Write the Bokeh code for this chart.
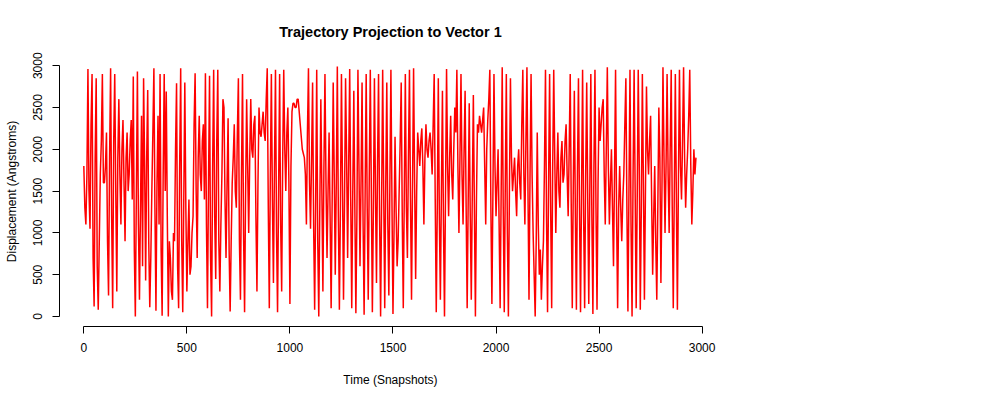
from bokeh.plotting import figure
from bokeh.models import Range1d, FixedTicker, ColumnDataSource
from bokeh.embed import file_html
from bokeh.resources import INLINE

title_text = "Trajectory Projection to Vector 1"
x_label = "Time (Snapshots)"
y_label = "Displacement (Angstroms)"
x_ticks = [0, 500, 1000, 1500, 2000, 2500, 3000]
y_ticks = [0, 500, 1000, 1500, 2000, 2500, 3000]

step = 5
displacement = [
    1800, 1300, 1100, 1700, 2960, 1500, 1050, 2300, 2900, 700, 120, 1900, 2850, 600, 80, 900, 1700, 2100, 2900, 1600,
    1600, 1800, 2200, 900, 250, 1900, 2970, 1200, 100, 2100, 2900, 1500, 300, 1900, 2600, 1700, 1100, 2000, 2350, 1600,
    900, 1900, 2200, 1500, 1700, 2100, 2350, 1400, 2870, 800, 0, 1500, 2930, 1100, 200, 1300, 2400, 600, 2850, 1800,
    430, 1900, 2710, 900, 110, 700, 1500, 2200, 2970, 1300, 70, 1600, 2400, 1100, 2900, 800, 10, 1700, 2900, 1500,
    2690, 1200, 0, 900, 700, 300, 200, 1000, 900, 2000, 2790, 600, 100, 1800, 2970, 900, 50, 1400, 2800, 1300,
    300, 900, 1400, 500, 600, 1000, 1200, 2300, 2910, 1500, 700, 1900, 2400, 1700, 1500, 2100, 2300, 1400, 2910, 1100,
    100, 1600, 2880, 700, 0, 1800, 2950, 1200, 450, 2100, 2950, 900, 300, 1100, 1700, 2600, 2500, 1400, 700, 1600,
    2370, 800, 60, 900, 1600, 1900, 2300, 1500, 1300, 2200, 2850, 900, 200, 1700, 2900, 1000, 50, 1500, 2600, 1800,
    1000, 1900, 2600, 2000, 1900, 2300, 2400, 1200, 300, 1600, 2500, 2200, 2150, 2300, 2450, 2200, 2100, 2600, 2970, 1300,
    100, 1700, 2900, 1400, 400, 1800, 2950, 1000, 50, 1500, 2900, 1100, 300, 1900, 2950, 2000, 1500, 2200, 2500, 1600,
    150, 1800, 2450, 2550, 2550, 2500, 2500, 2600, 2600, 2450, 2300, 2150, 2000, 1950, 1900, 1700, 1100, 2200, 2970, 1600,
    1050, 1900, 2800, 1100, 80, 1400, 2950, 900, 0, 1300, 2600, 1500, 300, 1800, 2900, 1600, 700, 1500, 2200, 1200,
    100, 1400, 2800, 1700, 500, 1600, 2990, 1200, 80, 1300, 2900, 1600, 200, 1400, 2850, 1900, 700, 1800, 2960, 1400,
    100, 1500, 2700, 1300, 40, 1200, 2950, 1800, 600, 1600, 2800, 1100, 20, 1500, 2900, 1300, 200, 1700, 2950, 1500,
    50, 1300, 2850, 1500, 400, 1800, 2900, 1200, 0, 1400, 2950, 1500, 100, 1600, 2800, 1100, 250, 1600, 2950, 1400,
    30, 1000, 2150, 1300, 600, 900, 1500, 2100, 2800, 1200, 100, 1500, 2900, 1300, 700, 1900, 2950, 1400, 200, 1600,
    2970, 1600, 450, 1500, 2200, 2000, 1800, 2100, 2250, 1800, 1100, 1900, 2300, 2000, 1900, 2100, 2200, 2000, 1700, 2300,
    2900, 1400, 50, 1300, 2850, 1200, 200, 1500, 2700, 1100, 0, 1500, 2960, 1800, 1200, 1900, 2400, 1700, 1400, 2000,
    2500, 2200, 2950, 1800, 1000, 1900, 2900, 1700, 1100, 2000, 2700, 1300, 100, 1400, 2550, 1200, 200, 1500, 2650, 1300,
    0, 1400, 2300, 2200, 2400, 2300, 2200, 2350, 2500, 1800, 1100, 2000, 2350, 2600, 2950, 1300, 150, 1500, 2900, 1800,
    1200, 1600, 2000, 1100, 100, 1500, 2980, 1300, 50, 1600, 2900, 1000, 0, 1500, 2850, 1900, 1500, 1700, 1900, 1500,
    1200, 1800, 2000, 1600, 1400, 2300, 2950, 1700, 1100, 2100, 2980, 1500, 200, 1700, 2900, 1700, 1000, 500, 0, 900,
    2200, 1100, 500, 800, 200, 600, 900, 1800, 2950, 1200, 50, 1600, 2900, 1300, 100, 1800, 2950, 1900, 1000, 1700,
    2200, 1500, 1300, 1900, 2100, 1600, 1700, 2100, 2300, 1700, 1200, 2000, 2900, 1300, 100, 1600, 2700, 1200, 80, 1700,
    2850, 1300, 50, 1500, 2950, 1200, 100, 1700, 2800, 1400, 150, 1500, 2900, 1200, 30, 1800, 2950, 1300, 80, 1600,
    2500, 2100, 2300, 2500, 2600, 1700, 1100, 2000, 2980, 1800, 1100, 1600, 2000, 1300, 600, 1700, 2950, 1200, 100, 1300,
    1800, 1300, 900, 1400, 1700, 2300, 2850, 1300, 60, 1500, 2950, 1100, 0, 1700, 2950, 1500, 100, 1400, 2950, 1800,
    80, 1300, 2900, 1600, 200, 1500, 2750, 2000, 1700, 2100, 2400, 1400, 500, 1200, 1800, 900, 200, 1300, 2500, 1900,
    400, 1500, 2980, 1900, 1000, 1800, 2900, 1700, 1000, 2000, 2950, 1300, 100, 1500, 2900, 1400, 80, 1600, 2950, 1800,
    1400, 2100, 2980, 1900, 1300, 1700, 2000, 2400, 2950, 1800, 1100, 1500, 2000, 1700, 1900,
]
snapshots = [i * step for i in range(len(displacement))]

src = ColumnDataSource(data=dict(x=snapshots, y=displacement))

p = figure(width=992, height=392, output_backend="svg", toolbar_location=None,
           x_range=Range1d(-118, 3094), y_range=Range1d(-119.5, 3110),
           min_border_left=59, min_border_right=271, min_border_top=56,
           min_border_bottom=66, background_fill_color="white",
           border_fill_color="white")
p.outline_line_color = None
p.grid.visible = False

p.line("x", "y", source=src, line_color="#FF0000", line_width=1.5)

p.title.text = title_text
p.title.align = "center"
p.title.text_font = "Liberation Sans"
p.title.text_font_size = "14.5px"
p.title.text_font_style = "bold"
p.title.text_color = "black"
p.title.standoff = 34

for ax, ticks, lab in ((p.xaxis[0], x_ticks, x_label), (p.yaxis[0], y_ticks, y_label)):
    ax.ticker = FixedTicker(ticks=ticks)
    ax.bounds = (0, 3000)
    ax.axis_label = lab
    ax.axis_label_text_font = "Liberation Sans"
    ax.axis_label_text_font_size = "12px"
    ax.axis_label_text_font_style = "normal"
    ax.axis_label_text_color = "black"
    ax.major_label_text_font = "Liberation Sans"
    ax.major_label_text_font_size = "12px"
    ax.major_label_text_color = "black"
    ax.axis_line_color = "black"
    ax.major_tick_line_color = "black"
    ax.major_tick_out = 7
    ax.major_tick_in = 0
    ax.minor_tick_line_color = None

p.xaxis[0].major_label_standoff = 9
p.xaxis[0].axis_label_standoff = 18
p.yaxis[0].major_label_orientation = "vertical"
p.yaxis[0].major_label_standoff = 10
p.yaxis[0].axis_label_standoff = 12

open("out.html", "w").write(file_html(p, INLINE))
